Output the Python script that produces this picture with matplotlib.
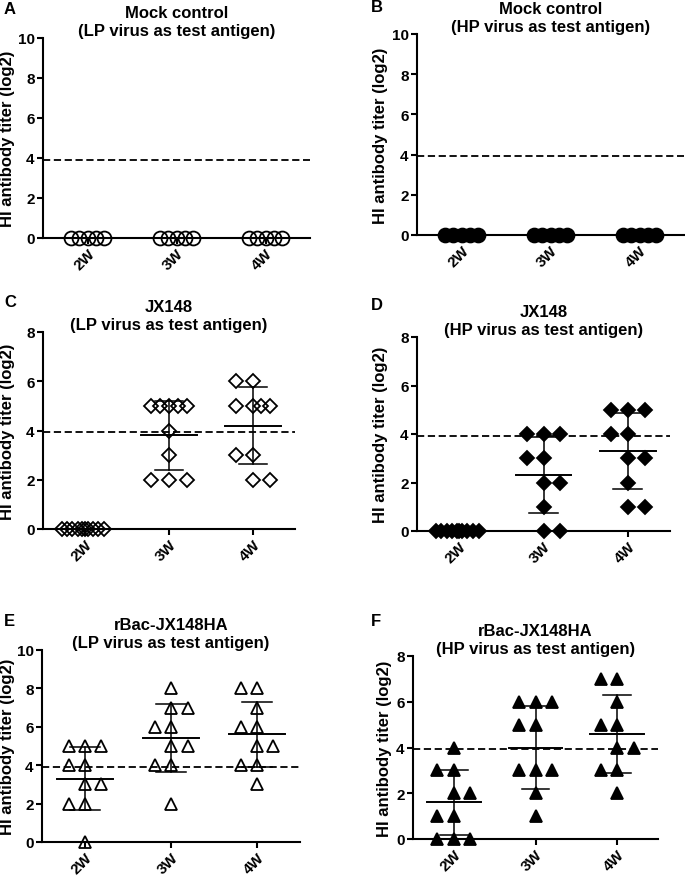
import numpy as np
import matplotlib
matplotlib.use('Agg')
import matplotlib.pyplot as plt

plt.rcParams['font.family'] = ['Liberation Sans', 'DejaVu Sans']
plt.rcParams['font.weight'] = 'bold'

# Data: HI antibody titers (log2) per group
groups = ['2W', '3W', '4W']
cutoff = 3.92

mock_lp = [[0] * 5, [0] * 5, [0] * 5]
mock_hp = [[0] * 5, [0] * 5, [0] * 5]
jx_lp = [[0] * 10,
         [5, 5, 5, 5, 5, 4, 3, 2, 2, 2],
         [6, 6, 5, 5, 5, 5, 3, 3, 2, 2]]
jx_hp = [[0] * 10,
         [4, 4, 4, 3, 3, 2, 2, 1, 0, 0],
         [5, 5, 5, 4, 4, 3, 3, 2, 1, 1]]
rbac_lp = [[5, 5, 5, 4, 4, 3, 3, 2, 2, 0],
           [8, 7, 7, 6, 6, 5, 5, 4, 4, 2],
           [8, 8, 7, 6, 6, 5, 5, 4, 4, 3]]
rbac_hp = [[4, 3, 3, 2, 2, 1, 1, 0, 0, 0],
           [6, 6, 6, 5, 5, 3, 3, 3, 2, 1],
           [7, 7, 6, 5, 5, 4, 4, 3, 3, 2]]

# scatter layout (horizontal spread of points inside a group)
spread5 = [-0.18, -0.09, 0, 0.09, 0.18]
spread_zero = [-0.27, -0.21, -0.15, -0.08, -0.03, 0, 0.03, 0.09, 0.16, 0.23]
jit_mock = [spread5, spread5, spread5]
jit_jx_lp = [spread_zero,
             [-0.22, -0.11, 0, 0.11, 0.22, 0, 0, -0.21, 0, 0.21],
             [-0.2, 0, -0.2, 0, 0.1, 0.2, -0.2, 0, 0, 0.2]]
jit_jx_hp = [spread_zero,
             [-0.2, 0, 0.2, -0.2, 0, 0, 0.2, 0, 0, 0.2],
             [-0.2, 0, 0.2, -0.2, 0, 0, 0.2, 0, 0, 0.2]]
jit_rbac_lp = [[-0.19, 0, 0.19, -0.19, 0, 0, 0.19, -0.19, 0, 0],
               [0, 0, 0.2, -0.19, 0, 0, 0.2, -0.19, 0, 0],
               [-0.19, 0, 0, -0.19, 0, 0, 0.19, -0.19, 0, 0]]
jit_rbac_hp = [[0, -0.2, 0, 0, 0.2, -0.2, 0, -0.2, 0, 0.2],
               [-0.2, 0, 0.2, -0.2, 0, -0.2, 0, 0.2, 0, 0],
               [-0.2, 0, 0, -0.2, 0, 0, 0.2, -0.2, 0, 0]]

W, H = 685, 878
fig = plt.figure(figsize=(W / 100, H / 100), dpi=100)


def px_axes(l, r, t, b):
    return fig.add_axes([l / W, 1 - b / H, (r - l) / W, (b - t) / H])


panels = [
    # letter, name, antigen, data, jitter, marker, filled, ymax, box(l,r,t,b), letter pos, ylabel x
    ('A', 'Mock control', 'LP', mock_lp, jit_mock, 'o', False, 10, (43, 310, 39, 239), (4, 9), 8),
    ('B', 'Mock control', 'HP', mock_hp, jit_mock, 'o', True, 10, (417, 684, 35, 236), (371, 7), 381),
    ('C', 'JX148', 'LP', jx_lp, jit_jx_lp, 'D', False, 8, (43, 295, 333, 530), (4, 303), 8),
    ('D', 'JX148', 'HP', jx_hp, jit_jx_hp, 'D', True, 8, (417, 670, 338, 532), (371, 305), 381),
    ('E', 'rBac-JX148HA', 'LP', rbac_lp, jit_rbac_lp, '^', False, 10, (42, 300, 651, 843), (4, 622), 8),
    ('F', 'rBac-JX148HA', 'HP', rbac_hp, jit_rbac_hp, '^', True, 8, (413, 658, 657, 840), (371, 622), 384),
]

msize = {'o': 10, 'D': 6.8, '^': 9}

for letter, name, antigen, data, jit, mk, filled, ymax, box, lpos, ylx in panels:
    l, r, t, b = box
    ax = px_axes(l, r, t, b)
    ax.set_xlim(-0.5, 2.5)
    ax.set_ylim(0, ymax)
    ax.axhline(cutoff, color='black', lw=1.3, dashes=(4, 2), zorder=1)

    for i, vals in enumerate(data):
        vals = np.array(vals, dtype=float)
        xs = i + np.array(jit[i])
        ax.plot(xs, vals, linestyle='none', marker=mk, markersize=msize[mk],
                markerfacecolor='black' if filled else 'none',
                markeredgecolor='black', markeredgewidth=1.3,
                clip_on=False, zorder=3)
        if vals.max() > 0:
            m = vals.mean()
            sd = vals.std(ddof=1)
            ax.plot([i - 0.33, i + 0.33], [m, m], color='black', lw=1.4, zorder=4)
            ax.plot([i, i], [m - sd, m + sd], color='black', lw=1.1, zorder=4)
            for y in (m - sd, m + sd):
                ax.plot([i - 0.17, i + 0.17], [y, y], color='black', lw=1.1, zorder=4)

    for s in ('top', 'right'):
        ax.spines[s].set_visible(False)
    for s in ('left', 'bottom'):
        ax.spines[s].set_linewidth(1.5)
    ax.set_yticks(np.arange(0, ymax + 1, 2))
    ax.set_xticks(range(3))
    ax.set_xticklabels(groups, rotation=45, ha='right', va='top',
                       rotation_mode='anchor', fontsize=11, fontweight='bold')
    ax.tick_params(axis='y', labelsize=11, width=1.5, length=4, pad=2)
    ax.tick_params(axis='x', width=1.5, length=4, pad=2)
    for lab in ax.get_yticklabels():
        lab.set_fontweight('bold')

    ax.set_title(name + '\n(' + antigen + ' virus as test antigen)',
                 fontsize=12, fontweight='bold', pad=2, linespacing=1.25)
    fig.text(ylx / W, 1 - (t + b) / 2 / H, 'HI antibody titer (log2)',
             rotation=90, ha='center', va='center', fontsize=12, fontweight='bold')
    fig.text(lpos[0] / W, 1 - lpos[1] / H, letter, fontsize=12,
             fontweight='bold', ha='left', va='center')

fig.savefig('out.png', dpi=100)
